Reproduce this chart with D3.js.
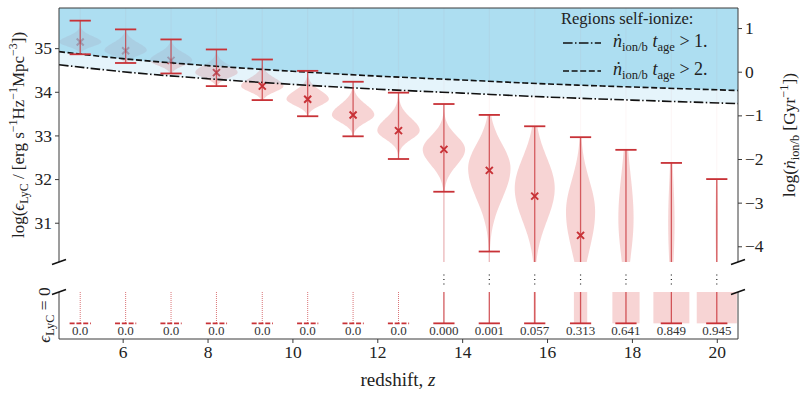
<!DOCTYPE html>
<html>
<head>
<meta charset="utf-8">
<script src="https://cdn.jsdelivr.net/npm/d3@7"></script>
<style>
  body { margin: 0; background: #fff; }
  svg { display: block; font-family: "Liberation Serif", "DejaVu Serif", serif; }
</style>
</head>
<body>
<svg width="806" height="394"></svg>
<script>
// redshift bins of the violins
const zBins = [5.0, 6.07, 7.14, 8.21, 9.29, 10.36, 11.43, 12.5, 13.57, 14.64, 15.71, 16.79, 17.86, 18.93, 20.0];
// extrema and mean of log(eps_LyC) in each bin (null = not in the top panel)
const maxVals = [35.63, 35.43, 35.2, 34.97, 34.74, 34.48, 34.23, 33.98, 33.72, 33.47, 33.21, 32.96, 32.67, 32.37, 32.0];
const minVals = [34.86, 34.66, 34.42, 34.13, 33.81, 33.44, 32.98, 32.46, 31.71, 30.34, null, null, null, null, null];
const meanVals = [35.14, 34.94, 34.72, 34.44, 34.13, 33.83, 33.47, 33.11, 32.68, 32.2, 31.61, 30.71, null, null, null];
// violin shape: peak and spread above / below it
const modeVals = [35.14, 34.95, 34.72, 34.44, 34.13, 33.83, 33.47, 33.11, 32.68, 32.25, 31.79, 31.25, 31.1, 31.0, 31.0];
const sigUp = [0.13, 0.17, 0.17, 0.17, 0.18, 0.2, 0.24, 0.28, 0.31, 0.55, 0.7, 0.72, 1.0, 1.0, 1.0];
const sigLo = [0.1, 0.12, 0.12, 0.12, 0.13, 0.14, 0.17, 0.2, 0.36, 0.7, 0.75, 0.88, 0.9, 1.0, 1.0];
// fraction of regions with eps_LyC = 0
const zeroFrac = [0, 0, 0, 0, 0, 0, 0, 0, 0, 0.001, 0.057, 0.313, 0.641, 0.849, 0.945];
const zeroLabels = ["0.0", "0.0", "0.0", "0.0", "0.0", "0.0", "0.0", "0.0",
  "0.000", "0.001", "0.057", "0.313", "0.641", "0.849", "0.945"];
// self-ionisation thresholds
const thrZ = [4.5, 6, 8, 10, 12, 14, 16, 18, 20.5];
const thr1 = [34.62, 34.46, 34.30, 34.17, 34.06, 33.97, 33.88, 33.81, 33.73];
const thr2 = [34.92, 34.76, 34.60, 34.47, 34.36, 34.27, 34.18, 34.11, 34.03];
const leftTicks = [31, 32, 33, 34, 35];
const rightTicks = [-4, -3, -2, -1, 0, 1];
const xTicks = [6, 8, 10, 12, 14, 16, 18, 20];

const svg = d3.select("svg");
const red = "#c83237";
const L = 59, R = 738, topY = 8, topB = 262, lowT = 292, lowB = 339;

const x = d3.scaleLinear().domain([4.5, 20.5]).range([L, R]);
const y = d3.scaleLinear().domain([30.1, 35.92]).range([topB, topY]);
const yR = d3.scaleLinear().domain([30.1 - 34.46, 35.92 - 34.46]).range([topB, topY]);
const yLow = d3.scaleLinear().domain([-0.5, 1]).range([lowB, lowT]);

// helper: rich text with sub/superscripts
function rich(sel, parts, size) {
  let cur = 0;
  parts.forEach(([t, k]) => {
    const target = k === "sub" ? 4 : k === "sup" ? -7 : 0;
    const sp = sel.append("tspan").text(t);
    if (target !== cur) sp.attr("dy", target - cur);
    cur = target;
    if (k === "i") sp.style("font-style", "italic");
    if (k === "sub" || k === "sup") sp.style("font-size", size * 0.7 + "px");
  });
  return sel;
}

svg.append("clipPath").attr("id", "clipTop")
  .append("rect").attr("x", L).attr("y", topY).attr("width", R - L).attr("height", topB - topY);
svg.append("clipPath").attr("id", "clipLow")
  .append("rect").attr("x", L).attr("y", lowT).attr("width", R - L).attr("height", lowB - lowT);

const topG = svg.append("g").attr("clip-path", "url(#clipTop)");

// violins
const area = d3.area()
  .y(d => y(d.v))
  .x0(d => x(d.z - d.w))
  .x1(d => x(d.z + d.w))
  .curve(d3.curveBasis);

zBins.forEach((z, i) => {
  const lo = minVals[i] ?? 29.9, hi = maxVals[i];
  const pts = d3.range(0, 61).map(k => {
    const v = lo + (hi - lo) * k / 60;
    const s = v > modeVals[i] ? sigUp[i] : sigLo[i];
    const w = 0.5 * (1 - zeroFrac[i]) * Math.exp(-0.5 * ((v - modeVals[i]) / s) ** 2);
    return { v, z, w };
  });
  topG.append("path").attr("d", area(pts)).attr("fill", "#d62728").attr("fill-opacity", 0.2);
});

// means
zBins.forEach((z, i) => {
  if (meanVals[i] == null) return;
  const cx = x(z), cy = y(meanVals[i]), s = 3.5;
  topG.append("path")
    .attr("d", `M${cx - s},${cy - s}L${cx + s},${cy + s}M${cx - s},${cy + s}L${cx + s},${cy - s}`)
    .attr("stroke", red).attr("stroke-width", 2);
});

// self-ionising regions
const aboveArea = (vals) => d3.area()
  .x((d, i) => x(thrZ[i])).y0(topY - 5).y1((d, i) => y(vals[i]))
  .curve(d3.curveMonotoneX);
topG.append("path").attr("d", aboveArea(thr1)(thr1)).attr("fill", "#87ceeb").attr("fill-opacity", 0.22);
topG.append("path").attr("d", aboveArea(thr2)(thr2)).attr("fill", "#87ceeb").attr("fill-opacity", 0.59);

const thrLine = d3.line().x((d, i) => x(thrZ[i])).y(d => y(d)).curve(d3.curveMonotoneX);
topG.append("path").attr("d", thrLine(thr1)).attr("fill", "none")
  .attr("stroke", "#111").attr("stroke-width", 1.6).attr("stroke-dasharray", "9.6,2.4,1.5,2.4");
topG.append("path").attr("d", thrLine(thr2)).attr("fill", "none")
  .attr("stroke", "#111").attr("stroke-width", 1.6).attr("stroke-dasharray", "6,2.6");

// bars and caps
zBins.forEach((z, i) => {
  const cx = x(z);
  const lowEnd = minVals[i] ?? 29.9;
  topG.append("line").attr("x1", cx).attr("x2", cx).attr("y1", topY).attr("y2", y(maxVals[i]))
    .attr("stroke", red).attr("stroke-opacity", 0.04).attr("stroke-width", 1.2);
  topG.append("line").attr("x1", cx).attr("x2", cx).attr("y1", y(maxVals[i])).attr("y2", y(lowEnd))
    .attr("stroke", red).attr("stroke-opacity", 0.75).attr("stroke-width", 1.3);
  if (minVals[i] != null && zeroLabels[i] !== "0.0") {
    topG.append("line").attr("x1", cx).attr("x2", cx).attr("y1", y(minVals[i])).attr("y2", topB)
      .attr("stroke", red).attr("stroke-opacity", 0.35).attr("stroke-width", 1.3);
  }
  const caps = [maxVals[i], minVals[i]].filter(v => v != null);
  caps.forEach(v => {
    topG.append("line").attr("x1", x(z - 0.25)).attr("x2", x(z + 0.25)).attr("y1", y(v)).attr("y2", y(v))
      .attr("stroke", red).attr("stroke-width", 1.8);
  });
});

// lower panel: eps_LyC = 0
const low = svg.append("g").attr("clip-path", "url(#clipLow)");
zBins.forEach((z, i) => {
  const cx = x(z), f = zeroFrac[i];
  const none = zeroLabels[i] === "0.0";
  if (f > 0) {
    low.append("rect").attr("x", x(z - f / 2)).attr("width", x(z + f / 2) - x(z - f / 2))
      .attr("y", yLow(1)).attr("height", yLow(0) - yLow(1))
      .attr("fill", "#d62728").attr("fill-opacity", 0.2);
  }
  low.append("line").attr("x1", cx).attr("x2", cx).attr("y1", yLow(1)).attr("y2", yLow(0))
    .attr("stroke", red).attr("stroke-opacity", none ? 0.85 : 0.8)
    .attr("stroke-width", none ? 0.8 : 1.3).attr("stroke-dasharray", none ? "1,1" : null);
  low.append("line").attr("x1", x(z - 0.25)).attr("x2", x(z + 0.25)).attr("y1", yLow(0)).attr("y2", yLow(0))
    .attr("stroke", red).attr("stroke-width", 1.8).attr("stroke-dasharray", none ? "5,1.8" : null);
  low.append("text").attr("x", cx).attr("y", yLow(0) + 12).attr("text-anchor", "middle")
    .style("font-size", "13px").attr("fill", "#333").text(zeroLabels[i]);
  if (!none) {
    svg.append("line").attr("x1", cx).attr("x2", cx).attr("y1", 274.5).attr("y2", 285)
      .attr("stroke", "#222").attr("stroke-width", 1.2).attr("stroke-dasharray", "1.1,3.4");
  }
});

// spines
const spine = "#3a3a3a";
[[L, topY, R, topY], [L, topY, L, topB], [R, topY, R, topB],
 [L, lowT, L, lowB], [R, lowT, R, lowB], [L, lowB, R, lowB]].forEach(([a, b, c, d]) => {
  svg.append("line").attr("x1", a).attr("y1", b).attr("x2", c).attr("y2", d)
    .attr("stroke", spine).attr("stroke-width", 1);
});
// break marks
[L, R].forEach(px => {
  [topB, lowT].forEach(py => {
    svg.append("line").attr("x1", px - 7).attr("y1", py + 2.5).attr("x2", px + 7).attr("y2", py - 2.5)
      .attr("stroke", "#111").attr("stroke-width", 1.6);
  });
});

// axes
const styleAxis = g => {
  g.select(".domain").remove();
  g.selectAll("text").style("font-size", "17.5px").attr("fill", "#222")
    .style("font-family", "'Liberation Serif','DejaVu Serif',serif");
  g.selectAll("line").attr("stroke", spine);
};
const intFmt = d3.format("d");
svg.append("g").attr("transform", `translate(${L},0)`)
  .call(d3.axisLeft(y).tickValues(leftTicks).tickFormat(intFmt).tickSize(4).tickPadding(3)).call(styleAxis);
svg.append("g").attr("transform", `translate(${R},0)`)
  .call(d3.axisRight(yR).tickValues(rightTicks).tickFormat(intFmt).tickSize(4).tickPadding(3)).call(styleAxis);
svg.append("g").attr("transform", `translate(0,${lowB})`)
  .call(d3.axisBottom(x).tickValues(xTicks).tickFormat(intFmt).tickSize(4).tickPadding(3)).call(styleAxis);

// axis labels
rich(svg.append("text").attr("x", 398).attr("y", 386).attr("text-anchor", "middle")
  .style("font-size", "19px").attr("fill", "#222"), [["redshift, ", "n"], ["z", "i"]], 19);

rich(svg.append("text").attr("transform", "translate(24,135) rotate(-90)").attr("text-anchor", "middle")
  .style("font-size", "17px").attr("fill", "#222"),
  [["log(", "n"], ["\u03f5", "i"], ["LyC", "sub"], [" / [erg s", "n"], ["\u22121", "sup"],
   ["Hz", "n"], ["\u22121", "sup"], ["Mpc", "n"], ["\u22123", "sup"], ["])", "n"]], 17);

rich(svg.append("text").attr("transform", "translate(50,315) rotate(-90)").attr("text-anchor", "middle")
  .style("font-size", "17.5px").attr("fill", "#222"),
  [["\u03f5", "i"], ["LyC", "sub"], [" = 0", "n"]], 17.5);

rich(svg.append("text").attr("transform", "translate(795,135) rotate(-90)").attr("text-anchor", "middle")
  .style("font-size", "17.5px").attr("fill", "#222"),
  [["log(", "n"], ["\u1e45", "i"], ["ion/b", "sub"], [" [Gyr", "n"], ["\u22121", "sup"], ["])", "n"]], 17.5);

// legend
svg.append("text").attr("x", 561).attr("y", 24).style("font-size", "16.5px").attr("fill", "#222")
  .text("Regions self-ionize:");
[["9.6,2.4,1.5,2.4", "1.", 43, 47], ["6,2.6", "2.", 71, 75]].forEach(([dash, lab, ly, ty]) => {
  svg.append("line").attr("x1", 563).attr("x2", 601).attr("y1", ly).attr("y2", ly)
    .attr("stroke", "#111").attr("stroke-width", 1.6).attr("stroke-dasharray", dash);
  rich(svg.append("text").attr("x", 613).attr("y", ty).style("font-size", "18px").attr("fill", "#222"),
    [["\u1e45", "i"], ["ion/b", "sub"], [" ", "n"], ["t", "i"], ["age", "sub"], [" > " + lab, "n"]], 18);
});
</script>
</body>
</html>
